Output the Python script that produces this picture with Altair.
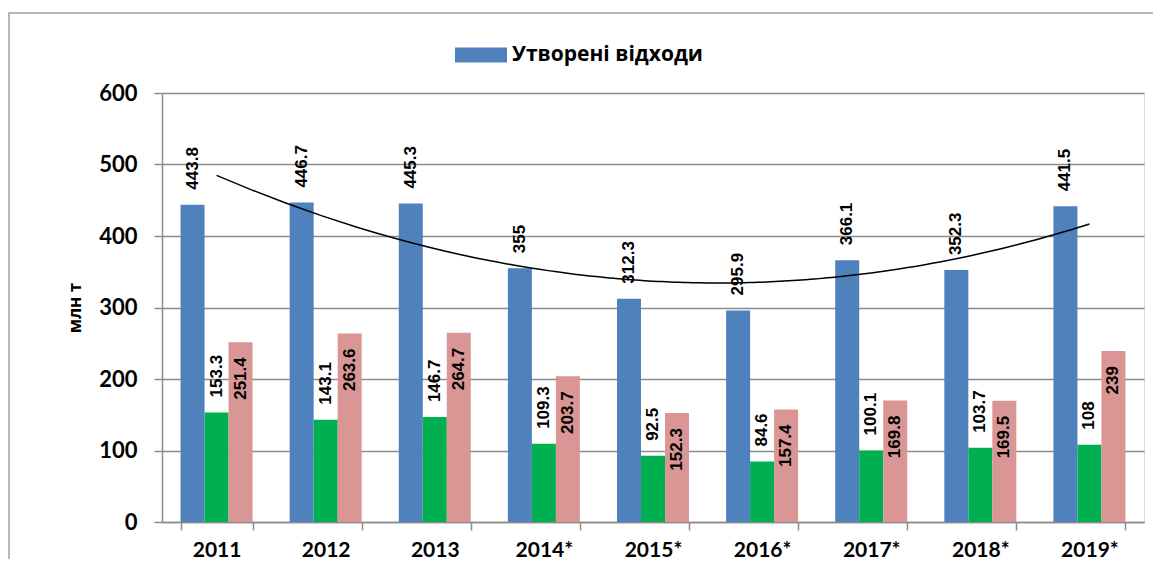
import altair as alt
import pandas as pd

years = ["2011", "2012", "2013", "2014*", "2015*", "2016*", "2017*", "2018*", "2019*"]
generated = [443.8, 446.7, 445.3, 355, 312.3, 295.9, 366.1, 352.3, 441.5]
utilized = [153.3, 143.1, 146.7, 109.3, 92.5, 84.6, 100.1, 103.7, 108]
disposed = [251.4, 263.6, 264.7, 203.7, 152.3, 157.4, 169.8, 169.5, 239]

series_names = ["Утворені відходи", "Утилізовані відходи", "Видалені відходи"]
series_colors = ["#4F81BD", "#00B050", "#D99694"]

rows = []
for name, vals in zip(series_names, [generated, utilized, disposed]):
    for i, (y, v) in enumerate(zip(years, vals)):
        rows.append({"year": y, "idx": i + 1, "series": name, "value": v,
                     "label": f"{v:g}"})
df = pd.DataFrame(rows)
df_gen = df[df["series"] == series_names[0]]

GRID = "#8C8C8C"
NUM_FONT = "Lato, Open Sans"
TXT_FONT = "Open Sans"
LBL_FONT = "Liberation Sans"

x_axis = alt.Axis(labelAngle=0, tickBand="extent", labelFont=NUM_FONT,
                  labelFontSize=21, labelFontWeight="bold", labelColor="black",
                  tickColor=GRID, tickSize=8, tickWidth=1.5,
                  domainColor=GRID, domainWidth=1.5, labelPadding=9)
x_scale = alt.Scale(paddingInner=0.34, paddingOuter=0.17)
x_enc = alt.X("year:N", sort=years, title=None, scale=x_scale, axis=x_axis)
xo_enc = alt.XOffset("series:N", sort=series_names,
                     scale=alt.Scale(domain=series_names, paddingInner=0, paddingOuter=0))
y_enc = alt.Y("value:Q", title="млн т",
              scale=alt.Scale(domain=[0, 600], nice=False),
              axis=alt.Axis(values=[0, 100, 200, 300, 400, 500, 600], grid=True,
                            gridColor=GRID, gridWidth=1.5, tickColor=GRID, tickSize=8,
                            tickWidth=1.5, domainColor=GRID, domainWidth=1.5,
                            labelFont=NUM_FONT, labelFontSize=22, labelFontWeight="bold",
                            labelColor="black", labelPadding=17,
                            titleFont=TXT_FONT, titleFontSize=17, titleFontWeight="bold",
                            titleColor="black", titlePadding=14))

frame = alt.Chart(pd.DataFrame({"a": [0]})).mark_rect(
    fill=None, stroke="#A0A0A0", strokeWidth=1.5
).encode(x=alt.value(-153), x2=alt.value(1020), y=alt.value(-80), y2=alt.value(520))

bars = alt.Chart(df).mark_bar().encode(
    x=x_enc, xOffset=xo_enc, y=y_enc,
    color=alt.Color("series:N", sort=series_names,
                    scale=alt.Scale(domain=series_names, range=series_colors),
                    legend=alt.Legend(values=[series_names[0]], title=None, orient="none",
                                      legendX=293, legendY=-64, padding=0,
                                      symbolType="M-1,-0.29H1V0.29H-1Z", symbolSize=2704,
                                      symbolStrokeWidth=0, labelFont=TXT_FONT,
                                      labelFontSize=21, labelFontWeight="bold",
                                      labelColor="black", labelOffset=5, labelLimit=400)),
)

outside = alt.Chart(df).transform_filter(
    alt.FieldOneOfPredicate(field="series", oneOf=series_names[:2])
).mark_text(angle=270, align="left", baseline="middle", dx=15, font=LBL_FONT,
            fontSize=17, fontWeight="bold", color="black").encode(
    x=x_enc, xOffset=xo_enc, y="value:Q", text="label:N")

inside = alt.Chart(df).transform_filter(
    alt.FieldEqualPredicate(field="series", equal=series_names[2])
).mark_text(angle=270, align="right", baseline="middle", dx=-15, font=LBL_FONT,
            fontSize=17, fontWeight="bold", color="black").encode(
    x=x_enc, xOffset=xo_enc, y="value:Q", text="label:N")

trend = alt.Chart(df_gen).transform_regression(
    "idx", "value", method="poly", order=2, extent=[1, 9]
).mark_line(color="black", strokeWidth=1.5).encode(
    x=alt.X("idx:Q", scale=alt.Scale(domain=[0.5, 9.5], nice=False, zero=False), axis=None),
    y=alt.Y("value:Q"),
)

main_block = alt.layer(frame, bars, outside, inside)

chart = alt.layer(main_block, trend).resolve_scale(
    x="independent"
).properties(
    width=982, height=429,
    autosize=alt.AutoSizeParams(type="none"),
    padding={"left": 154, "top": 85, "right": 9, "bottom": 37},
).configure_view(stroke=None).configure(background="white")

chart.save("out.html", embed_options={"renderer": "svg", "actions": False})
